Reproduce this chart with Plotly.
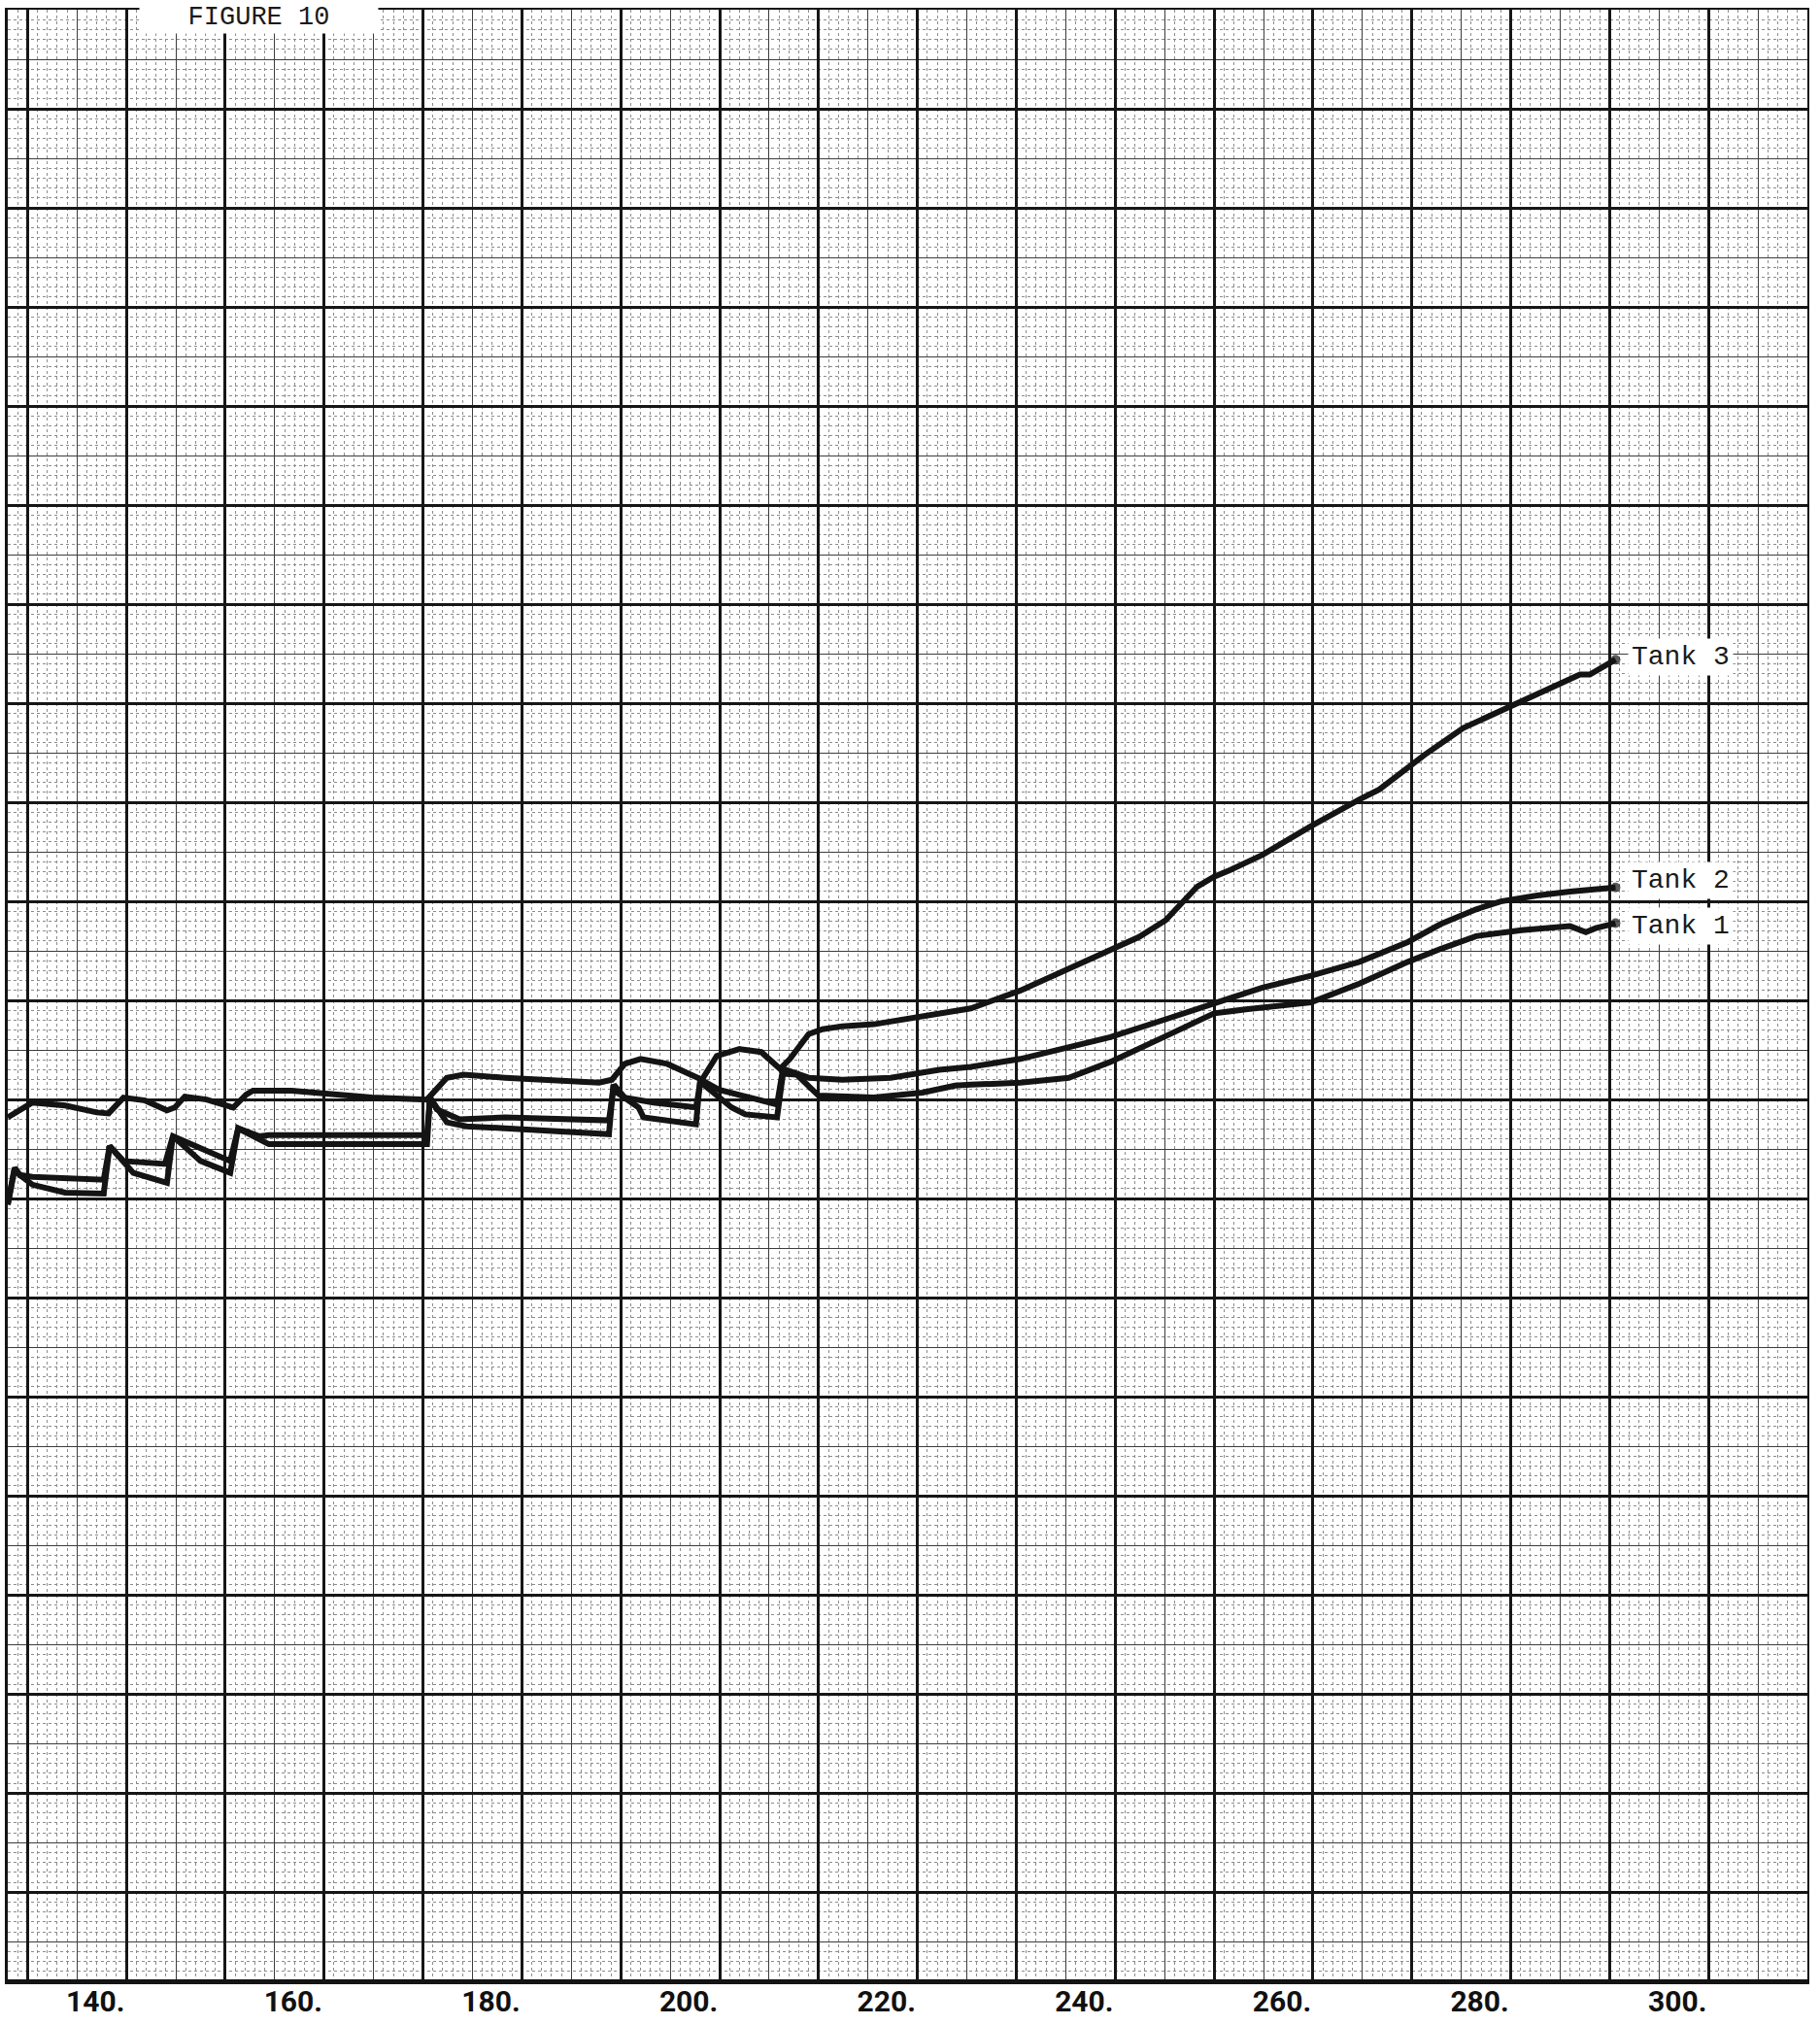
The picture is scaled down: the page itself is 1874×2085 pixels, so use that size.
import plotly.graph_objects as go

# Printed abscissa labels under the recorder chart
x_ticks = [140, 160, 180, 200, 220, 240, 260, 280, 300]
x_tick_text = [f"{v}." for v in x_ticks]

# Tank 3 trace
tank3_x = [128.0, 130.5, 133.8, 137.0, 138.2, 139.7, 141.9, 144.1, 144.9, 145.9,
           148.1, 150.8, 152.1, 152.8, 156.7, 159.9, 164.8, 170.4, 172.4, 174.1,
           178.3, 187.8, 189.1, 190.4, 192.0, 194.7, 197.3, 198.2, 199.7, 202.0,
           204.2, 206.1, 207.1, 209.0, 210.4, 212.4, 215.6, 218.9, 225.4, 230.4,
           235.3, 239.9, 242.4, 245.1, 246.8, 248.3, 250.0, 251.7, 254.9, 259.8,
           264.7, 266.7, 269.6, 271.3, 275.2, 277.8, 280.2, 284.4, 287.0, 288.0,
           289.6, 290.6]
tank3_y = [88.2, 89.7, 89.4, 88.7, 88.6, 90.2, 89.9, 88.9, 89.2, 90.3,
           90.0, 89.2, 90.5, 90.9, 90.9, 90.6, 90.2, 90.0, 92.2, 92.5,
           92.2, 91.7, 92.0, 93.6, 94.1, 93.6, 92.5, 92.0, 94.4, 95.1,
           94.8, 93.1, 94.1, 96.6, 97.1, 97.4, 97.6, 98.1, 99.2, 101.0,
           103.2, 105.4, 106.4, 108.1, 109.8, 111.5, 112.5, 113.2, 114.7, 117.6,
           120.3, 121.3, 123.5, 124.8, 127.5, 128.7, 129.7, 131.6, 132.9, 132.9,
           133.8, 134.4]

# Tank 2 trace
tank2_x = [128.0, 128.7, 129.2, 130.5, 137.7, 138.3, 139.7, 143.9, 144.7, 146.9,
           150.5, 151.3, 153.4, 154.4, 170.4, 170.7, 171.4, 173.7, 178.3, 188.8,
           189.3, 190.4, 193.3, 197.6, 198.1, 199.9, 205.8, 206.4, 209.0, 212.4,
           217.3, 222.2, 225.4, 230.4, 235.3, 239.5, 245.1, 250.0, 254.9, 259.8,
           264.7, 269.6, 272.9, 276.5, 279.0, 282.7, 286.0, 290.6]
tank2_y = [79.4, 83.1, 82.4, 82.2, 81.9, 85.3, 83.8, 83.5, 86.3, 85.3,
           83.8, 87.1, 86.3, 86.4, 86.4, 90.2, 89.0, 88.0, 88.2, 87.9,
           91.5, 90.2, 89.7, 89.2, 92.0, 91.0, 89.5, 93.1, 92.2, 92.0,
           92.2, 93.0, 93.3, 94.1, 95.3, 96.3, 98.1, 99.7, 101.3, 102.5,
           103.9, 105.9, 107.7, 109.2, 110.0, 110.6, 111.0, 111.4]

# Tank 1 trace
tank1_x = [128.0, 128.7, 129.2, 130.5, 133.8, 137.7, 138.3, 140.7, 144.1, 144.7,
           147.5, 150.5, 151.3, 154.4, 170.4, 170.7, 172.4, 174.4, 178.3, 188.8,
           189.2, 191.8, 192.3, 197.6, 198.0, 201.2, 202.6, 205.8, 206.4, 207.8,
           210.0, 215.6, 220.5, 223.8, 225.4, 230.4, 235.3, 239.5, 245.1, 250.0,
           253.2, 259.8, 264.7, 269.6, 272.9, 276.5, 281.1, 286.0, 287.6, 288.6,
           290.6]
tank1_y = [79.4, 83.1, 82.4, 81.4, 80.6, 80.5, 85.3, 82.6, 81.6, 86.3,
           83.8, 82.6, 87.1, 85.5, 85.5, 90.2, 87.7, 87.3, 87.1, 86.5,
           91.0, 89.2, 88.2, 87.5, 91.8, 89.2, 88.5, 88.2, 92.6, 92.5,
           90.4, 90.2, 90.7, 91.4, 91.5, 91.7, 92.2, 93.8, 96.4, 98.7,
           99.1, 99.8, 101.7, 103.9, 105.2, 106.5, 107.1, 107.5, 106.9, 107.3,
           107.8]

# (label, x, y, label vertical nudge in px, axes pair)
series = [
    ("Tank 3", tank3_x, tank3_y, 3, ("x", "y")),
    ("Tank 2", tank2_x, tank2_y, 7, ("x2", "y2")),
    ("Tank 1", tank1_x, tank1_y, -3, ("x2", "y2")),
]

INK = "#141414"
HEAVY = "#161616"
MEDIUM = "#3c3c3c"
FINE = "#8c8c8c"
X_RANGE = [128.0, 310.0]
Y_RANGE = [1.2, 200.0]
TYPE_FONT = "Liberation Mono, DejaVu Sans Mono, monospace"

fig = go.Figure()

for name, xs, ys, _, (xa, ya) in series:
    sizes = [0] * (len(xs) - 1) + [10]
    fig.add_trace(go.Scatter(
        x=xs, y=ys, name=name, mode="lines+markers",
        xaxis=xa, yaxis=ya,
        line=dict(color=INK, width=6),
        marker=dict(size=sizes, color=INK, line=dict(width=0)),
        hoverinfo="skip",
    ))

annotations = [
    dict(text="\u00a0\u00a0\u00a0FIGURE 10\u00a0\u00a0\u00a0",
         xref="paper", yref="paper", x=(266 - 8) / 1853, y=1.0,
         xanchor="center", yanchor="middle", yshift=-8,
         showarrow=False, bgcolor="white", borderpad=1,
         font=dict(family=TYPE_FONT, size=27, color="#1a1a1a")),
]
for name, xs, ys, dy, (xa, ya) in series:
    annotations.append(dict(
        text=name, x=xs[-1], y=ys[-1], xref=xa, yref=ya,
        xanchor="left", yanchor="middle", xshift=13, yshift=dy,
        showarrow=False, bgcolor="white", borderpad=3,
        font=dict(family=TYPE_FONT, size=28, color="#1a1a1a"),
    ))

fine_grid = dict(tickmode="linear", tick0=0, dtick=1, showgrid=True,
                 gridcolor=FINE, gridwidth=1, griddash="dot", ticks="")
medium_grid = dict(tickmode="linear", tick0=0, dtick=5, showgrid=True,
                   gridcolor=MEDIUM, gridwidth=1.2, ticks="")

fig.update_layout(
    width=1874, height=2085,
    margin=dict(l=8, r=13, t=10, b=47),
    paper_bgcolor="white", plot_bgcolor="white",
    showlegend=False,
    annotations=annotations,
    xaxis=dict(
        range=X_RANGE, tickmode="array", tickvals=x_ticks, ticktext=x_tick_text,
        showgrid=False, zeroline=False, ticks="", automargin=False,
        showline=True, linecolor=INK, linewidth=5,
        tickfont=dict(family="Roboto, DejaVu Sans, sans-serif", size=30,
                      color="#111111", weight="bold"),
        ticklabelshift=-32, ticklabelstandoff=-8,
        minor=fine_grid, fixedrange=True,
    ),
    xaxis2=dict(
        overlaying="x", anchor="y2", range=X_RANGE, side="top",
        tickmode="linear", tick0=0, dtick=10, automargin=False,
        showgrid=True, gridcolor=HEAVY, gridwidth=2.8,
        showticklabels=False, ticks="", zeroline=False,
        showline=True, linecolor=INK, linewidth=2,
        minor=medium_grid, fixedrange=True,
    ),
    yaxis=dict(
        range=Y_RANGE, showticklabels=False, showgrid=False, zeroline=False,
        ticks="", showline=True, linecolor=INK, linewidth=3, automargin=False,
        minor=fine_grid, fixedrange=True,
    ),
    yaxis2=dict(
        overlaying="y", anchor="x2", range=Y_RANGE, side="right",
        tickmode="linear", tick0=0, dtick=10, automargin=False,
        showgrid=True, gridcolor=HEAVY, gridwidth=2.8,
        showticklabels=False, ticks="", zeroline=False,
        showline=True, linecolor=INK, linewidth=2,
        minor=medium_grid, fixedrange=True,
    ),
)

fig.write_html("out.html")
